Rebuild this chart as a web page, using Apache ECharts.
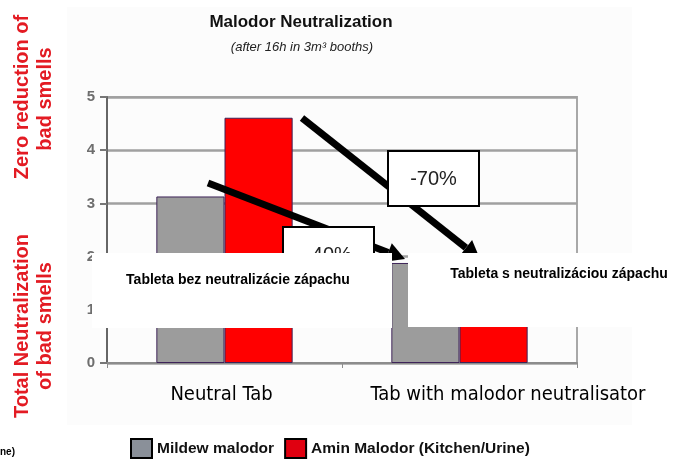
<!DOCTYPE html>
<html>
<head>
<meta charset="utf-8">
<script src="https://cdn.jsdelivr.net/npm/echarts@6/dist/echarts.min.js"></script>
<style>
  html, body { margin: 0; padding: 0; background: #fff; }
  #chart { width: 686px; height: 459px; }
</style>
</head>
<body>
<div id="chart"></div>
<script>
// data
const categories = ['Neutral Tab', 'Tab with malodor neutralisator'];
const seriesNames = ['Mildew malodor', 'Amin Malodor (Kitchen/Urine)'];
const mildew = [3.13, 1.88];
const amin = [4.61, 1.38];
const yTicks = [0, 1, 2, 3, 4, 5];

const catFont = '"Liberation Sans Narrow", "DejaVu Sans Condensed", "Arial Narrow", sans-serif';
const arial = '"Liberation Sans", Arial, sans-serif';
const red = '#e31b23';

const chart = echarts.init(document.getElementById('chart'));

// arrow helper: line + triangle head
function arrow(x1, y1, x2, y2) {
    const ang = Math.atan2(y2 - y1, x2 - x1);
    const ux = Math.cos(ang), uy = Math.sin(ang);
    const bx = x2 - 18 * ux, by = y2 - 18 * uy;
    return [
        { type: 'line', z: 100, shape: { x1: x1, y1: y1, x2: bx, y2: by },
          style: { stroke: '#000', lineWidth: 7 } },
        { type: 'polygon', z: 100,
          shape: { points: [[x2, y2], [bx - 10 * uy, by + 10 * ux], [bx + 10 * uy, by - 10 * ux]] },
          style: { fill: '#000' } }
    ];
}

function pctBox(x, y, label) {
    return [
        { type: 'rect', z: 101, shape: { x: x, y: y, width: 91, height: 55 },
          style: { fill: '#fff', stroke: '#000', lineWidth: 2 } },
        { type: 'text', z: 102, x: x + 45.5, y: y + 28,
          style: { text: label, fill: '#222', font: '20px ' + arial, align: 'center', verticalAlign: 'middle' } }
    ];
}

const graphics = [
    // faint page tint behind the pasted chart
    { type: 'rect', z: -1, shape: { x: 67, y: 7, width: 565, height: 418 }, style: { fill: '#fcfcfc' } },
    // titles
    { type: 'text', x: 301, y: 22, style: { text: 'Malodor Neutralization', fill: '#111', font: 'bold 17px ' + arial, align: 'center', verticalAlign: 'middle' } },
    { type: 'text', x: 302, y: 47, style: { text: '(after 16h in 3m³ booths)', fill: '#222', font: 'italic 13px ' + arial, align: 'center', verticalAlign: 'middle' } },
    // red side labels
    { type: 'text', x: 22, y: 97, rotation: Math.PI / 2, style: { text: 'Zero reduction of', fill: red, font: 'bold 20px ' + arial, align: 'center', verticalAlign: 'middle' } },
    { type: 'text', x: 45, y: 99, rotation: Math.PI / 2, style: { text: 'bad smells', fill: red, font: 'bold 20px ' + arial, align: 'center', verticalAlign: 'middle' } },
    { type: 'text', x: 22, y: 326, rotation: Math.PI / 2, style: { text: 'Total Neutralization', fill: red, font: 'bold 20px ' + arial, align: 'center', verticalAlign: 'middle' } },
    { type: 'text', x: 45, y: 326, rotation: Math.PI / 2, style: { text: 'of bad smells', fill: red, font: 'bold 20px ' + arial, align: 'center', verticalAlign: 'middle' } },
    // arrows and percentage boxes
    ...arrow(208, 183, 405, 259),
    ...arrow(302, 118, 480, 259),
    ...pctBox(388, 151, '-70%'),
    ...pctBox(283, 227, '-40%'),
    // white caption panels over the chart
    { type: 'rect', z: 110, shape: { x: 92, y: 253, width: 300, height: 75 }, style: { fill: '#fff' } },
    { type: 'rect', z: 110, shape: { x: 408, y: 253, width: 278, height: 74 }, style: { fill: '#fff' } },
    { type: 'text', z: 111, x: 238, y: 280, style: { text: 'Tableta bez neutralizácie zápachu', fill: '#000', font: 'bold 14px ' + arial, align: 'center', verticalAlign: 'middle' } },
    { type: 'text', z: 111, x: 559, y: 274, style: { text: 'Tableta s neutralizáciou zápachu', fill: '#000', font: 'bold 14px ' + arial, align: 'center', verticalAlign: 'middle' } },
    // clipped fragment at bottom left
    { type: 'text', x: 0, y: 452, style: { text: 'ne)', fill: '#000', font: 'bold 10px ' + arial, align: 'left', verticalAlign: 'middle' } }
];

chart.setOption({
    animation: false,
    backgroundColor: '#fff',
    grid: {
        left: 107, right: 109, top: 97, bottom: 96,
        show: true, borderColor: '#a8a8a8', borderWidth: 2
    },
    legend: {
        left: 125, top: 433,
        itemWidth: 21, itemHeight: 19, itemGap: 10,
        textStyle: { fontFamily: arial, fontWeight: 'bold', fontSize: 15.5, color: '#111' },
        data: [
            { name: seriesNames[0], icon: 'rect', itemStyle: { color: '#8a9099', borderColor: '#000', borderWidth: 2 } },
            { name: seriesNames[1], icon: 'rect', itemStyle: { color: '#e00010', borderColor: '#000', borderWidth: 2 } }
        ]
    },
    xAxis: {
        type: 'category',
        data: categories,
        axisLine: { lineStyle: { color: '#8c8c8c', width: 2 } },
        axisTick: { show: true, length: 5, lineStyle: { color: '#8c8c8c' } },
        axisLabel: {
            margin: 22,
            interval: 0,
            fontFamily: catFont,
            fontSize: 20,
            color: '#000',
            formatter: (v, i) => i === 1 ? '{b|' + v + '}' : '{a|' + v + '}',
            rich: {
                a: { fontFamily: catFont, fontSize: 20, color: '#000', padding: [0, 6, 0, 0] },
                b: { fontFamily: catFont, fontSize: 20, color: '#000', padding: [0, 0, 0, 97] }
            }
        }
    },
    yAxis: {
        type: 'value',
        min: yTicks[0],
        max: yTicks[yTicks.length - 1],
        interval: 1,
        axisLine: { show: true, lineStyle: { color: '#666', width: 2 } },
        axisTick: { show: true, length: 7, lineStyle: { color: '#777', width: 2 } },
        axisLabel: { margin: 12, fontFamily: arial, fontWeight: 'bold', fontSize: 15, color: '#6e6e6e' },
        splitLine: { lineStyle: { color: '#a0a0a0', width: 2.5 } }
    },
    series: [
        {
            name: seriesNames[0], type: 'bar', data: mildew,
            barGap: '0%', barCategoryGap: '42%',
            itemStyle: { color: '#9c9c9c', borderColor: '#3d2358', borderWidth: 1 }
        },
        {
            name: seriesNames[1], type: 'bar', data: amin,
            itemStyle: { color: '#ff0000', borderColor: '#3d2358', borderWidth: 1 }
        }
    ],
    graphic: graphics
});
</script>
</body>
</html>
